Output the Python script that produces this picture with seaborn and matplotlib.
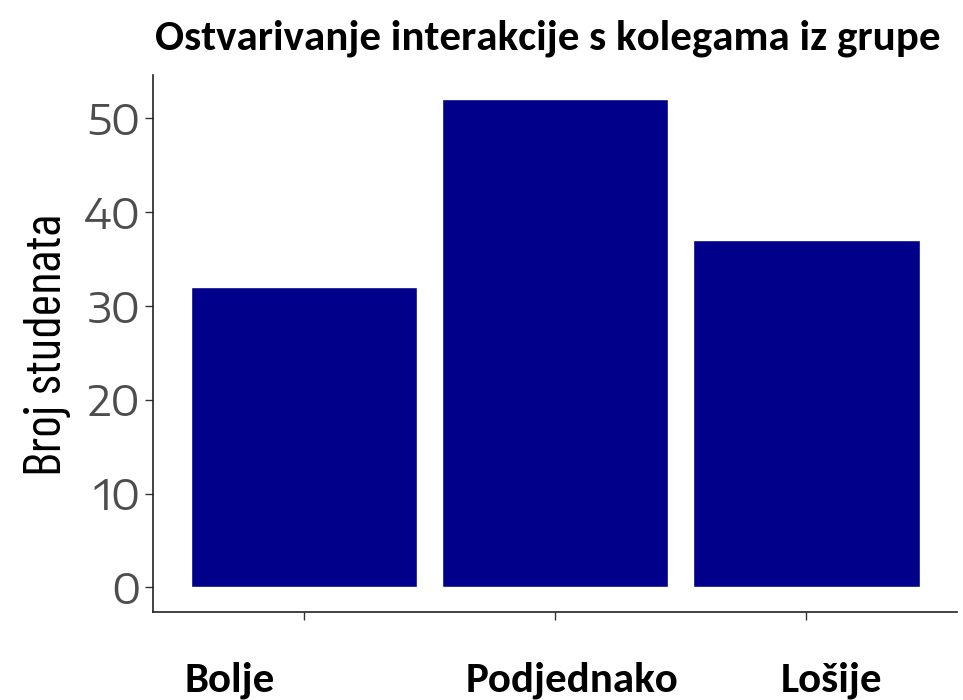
import pandas as pd
import seaborn as sns
import matplotlib
import matplotlib.pyplot as plt

matplotlib.use('Agg')

# Data
categories = ["Bolje", "Podjednako", "Lošije"]
counts = [32, 52, 37]
y_ticks = [0, 10, 20, 30, 40, 50]

df = pd.DataFrame({"odgovor": categories, "broj": counts})

sns.set_theme(style="white")
plt.rcParams['font.family'] = ['Carlito', 'DejaVu Sans']

fig = plt.figure(figsize=(9.63, 7.0), dpi=100)
ax = fig.add_axes([0.159, 0.126, 0.835, 0.767])

sns.barplot(data=df, x="odgovor", y="broj", color="#00008B", width=0.9,
            saturation=1, ax=ax)

ax.set_xlim(-0.6, 2.6)
ax.set_ylim(-2.6, 54.6)
ax.set_yticks(y_ticks)
ax.set_yticklabels([str(t) for t in y_ticks], fontsize=30, color="#4D4D4D",
                   family=["Encode Sans Expanded", "DejaVu Sans"])
ax.set_xticks(range(len(categories)))
ax.set_xticklabels([""] * len(categories))
ax.tick_params(axis="both", length=6, width=1, color="#333333", direction="out")
ax.tick_params(axis="y", pad=3)
ax.xaxis.set_ticks_position("bottom")
ax.yaxis.set_ticks_position("left")

for side in ["top", "right"]:
    ax.spines[side].set_visible(False)
for side in ["left", "bottom"]:
    ax.spines[side].set_color("#222222")
    ax.spines[side].set_linewidth(1.2)

ax.set_xlabel("")
ax.set_ylabel("")
fig.text(0.049, 0.507, "Broj studenata", rotation=90, ha="center", va="center",
         fontsize=38, fontweight="normal", color="black",
         family=["Barlow Condensed", "DejaVu Sans"])

# Title
fig.text(0.5685, 0.946, "Ostvarivanje interakcije s kolegama iz grupe",
         ha="center", va="center", fontsize=31, fontweight="bold", color="black")

# Category labels placed below the axis as in the original
label_x = [0.2385, 0.594, 0.863]
for cx, name in zip(label_x, categories):
    fig.text(cx, 0.012, name, ha="center", va="baseline", fontsize=31,
             fontweight="bold", color="black")

plt.savefig("out.png", dpi=100)
plt.close()
